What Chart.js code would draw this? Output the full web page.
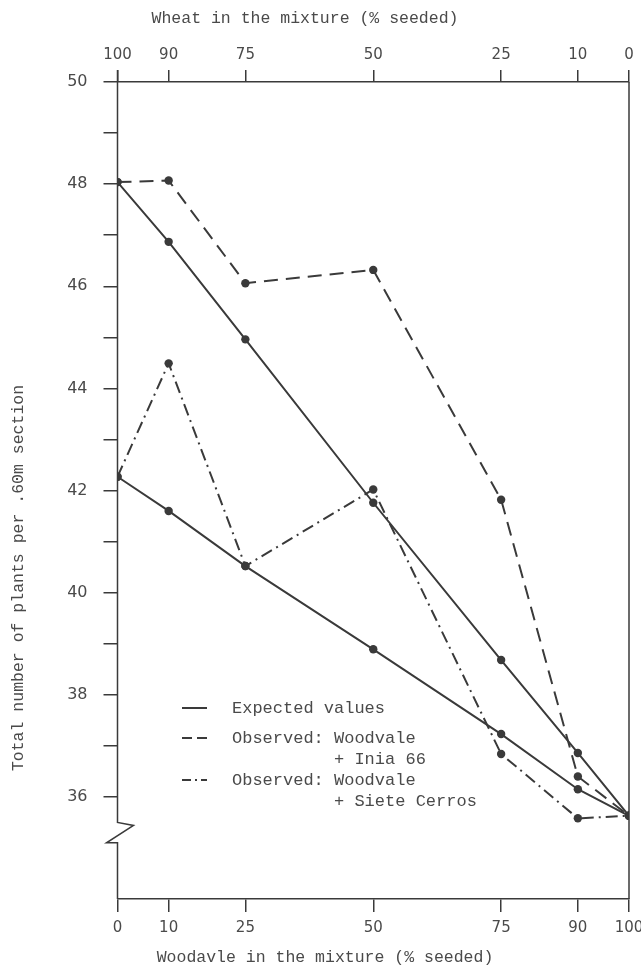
<!DOCTYPE html>
<html>
<head>
<meta charset="utf-8">
<script src="https://cdn.jsdelivr.net/npm/chart.js@4/dist/chart.umd.min.js"></script>
<style>
  html, body { margin: 0; padding: 0; background: #ffffff; }
  canvas { display: block; }
</style>
</head>
<body>
<canvas id="c" width="641" height="969"></canvas>
<script>
// ---- Data ----
const woodvalePct = [0, 10, 25, 50, 75, 90, 100];
const bottomTicks = [0, 10, 25, 50, 75, 90, 100];
const wheatTicks = [100, 90, 75, 50, 25, 10, 0];
const yTickValues = [36, 37, 38, 39, 40, 41, 42, 43, 44, 45, 46, 47, 48, 49, 50];

const expectedInia66 = [48.04, 46.87, 44.96, 41.76, 38.68, 36.86, 35.63];
const expectedSieteCerros = [42.27, 41.60, 40.52, 38.89, 37.23, 36.15, 35.63];
const observedInia66 = [48.04, 48.07, 46.06, 46.32, 41.82, 36.40, 35.63];
const observedSieteCerros = [42.27, 44.49, 40.52, 42.02, 36.84, 35.58, 35.63];

const legendLabels = ["Expected values", "Observed: Woodvale", "+ Inia 66", "Observed: Woodvale", "+ Siete Cerros"];
const xTitle = "Woodavle in the mixture (% seeded)";
const x2Title = "Wheat in the mixture (% seeded)";
const yTitle = "Total number of plants per .60m section";

// ---- Styles ----
const INK = '#3a3a3a';
const TEXT = '#4a4a4a';
const MONO = '"Liberation Mono", "DejaVu Sans Mono", monospace';
const SANS = '"DejaVu Sans", "Liberation Sans", sans-serif';
const DASH = [14, 8];
const DASHDOT = [12, 5, 2, 5];

function pts(ys) { return woodvalePct.map((x, i) => ({ x: x, y: ys[i] })); }

function ds(label, ys, dash) {
  return {
    label: label,
    data: pts(ys),
    borderColor: INK,
    backgroundColor: INK,
    borderWidth: 2,
    borderDash: dash,
    pointRadius: 4.2,
    pointBorderWidth: 0,
    pointBackgroundColor: INK,
    tension: 0,
    fill: false
  };
}

const decorPlugin = {
  id: 'decor',
  afterDraw(chart) {
    const ctx = chart.ctx;
    const a = chart.chartArea;
    const y = chart.scales.y;
    ctx.save();
    ctx.strokeStyle = INK;
    ctx.lineWidth = 1.5;
    ctx.setLineDash([]);
    // left axis with break
    const xL = a.left;
    const b1 = y.getPixelForValue(35.5);
    const b2 = y.getPixelForValue(35.1);
    ctx.beginPath();
    ctx.moveTo(xL, a.top - 12);
    ctx.lineTo(xL, b1);
    ctx.lineTo(xL + 16, b1 + 3);
    ctx.lineTo(xL - 11, b2);
    ctx.lineTo(xL, b2);
    ctx.lineTo(xL, a.bottom);
    ctx.stroke();
    // right border
    ctx.beginPath();
    ctx.moveTo(a.right, a.top);
    ctx.lineTo(a.right, a.bottom);
    ctx.stroke();

    // titles
    ctx.fillStyle = TEXT;
    ctx.font = '16.5px ' + MONO;
    ctx.textAlign = 'center';
    ctx.textBaseline = 'middle';
    ctx.fillText(x2Title, 305, 19);
    ctx.fillText(xTitle, 325, 958);
    ctx.save();
    ctx.translate(19, 578);
    ctx.rotate(-Math.PI / 2);
    ctx.fillText(yTitle, 0, 0);
    ctx.restore();

    // legend
    const lx0 = 182, lx1 = 207, tx = 232;
    const rows = [
      { y: 708, dash: [], text: legendLabels[0] },
      { y: 738, dash: [10, 5], text: legendLabels[1] },
      { y: 780, dash: [9, 4, 2, 4], text: legendLabels[3] }
    ];
    ctx.font = '17px ' + MONO;
    ctx.textAlign = 'left';
    const cw = ctx.measureText('O').width;
    rows.forEach(r => {
      ctx.setLineDash(r.dash);
      ctx.lineWidth = 2;
      ctx.beginPath();
      ctx.moveTo(lx0, r.y);
      ctx.lineTo(lx1, r.y);
      ctx.stroke();
      ctx.fillText(r.text, tx, r.y);
    });
    ctx.setLineDash([]);
    ctx.fillText(legendLabels[2], tx + cw * 10, 759);
    ctx.fillText(legendLabels[4], tx + cw * 10, 801);
    ctx.restore();
  }
};

const tickFont = { family: SANS, size: 15 };

new Chart(document.getElementById('c'), {
  type: 'line',
  data: {
    datasets: [
      ds('Expected values (Inia 66)', expectedInia66, []),
      ds('Expected values (Siete Cerros)', expectedSieteCerros, []),
      ds('Observed: Woodvale + Inia 66', observedInia66, DASH),
      ds('Observed: Woodvale + Siete Cerros', observedSieteCerros, DASHDOT)
    ]
  },
  options: {
    responsive: false,
    animation: false,
    layout: { padding: { left: 0, right: 12, top: 0, bottom: 0 } },
    plugins: { legend: { display: false }, tooltip: { enabled: false } },
    scales: {
      x: {
        type: 'linear', position: 'bottom', min: 0, max: 100,
        afterBuildTicks: s => { s.ticks = bottomTicks.map(v => ({ value: v })); },
        afterFit: s => { s.height = 70; s.paddingRight = 0; s.paddingLeft = 0; },
        grid: { drawOnChartArea: false, drawTicks: true, tickLength: 13, color: INK, lineWidth: 1.5 },
        border: { display: true, color: INK, width: 1.5 },
        ticks: { font: tickFont, color: TEXT, padding: 7, maxRotation: 0, autoSkip: false, callback: v => String(v) }
      },
      x2: {
        type: 'linear', position: 'top', min: 0, max: 100, reverse: true,
        afterBuildTicks: s => { s.ticks = wheatTicks.map(v => ({ value: v })); },
        afterFit: s => { s.height = 82; s.paddingRight = 0; s.paddingLeft = 0; },
        grid: { drawOnChartArea: false, drawTicks: true, tickLength: 12, color: INK, lineWidth: 1.5 },
        border: { display: true, color: INK, width: 1.5 },
        ticks: { font: tickFont, color: TEXT, padding: 6, maxRotation: 0, autoSkip: false, callback: v => String(v) }
      },
      y: {
        type: 'linear', position: 'left', min: 34, max: 50,
        afterBuildTicks: s => { s.ticks = yTickValues.map(v => ({ value: v })); },
        afterFit: s => { s.width = 117.5; s.paddingTop = 0; s.paddingBottom = 0; },
        grid: { drawOnChartArea: false, drawTicks: true, tickLength: 14, color: INK, lineWidth: 1.5 },
        border: { display: false },
        ticks: { font: { family: SANS, size: 16 }, color: TEXT, padding: 16, autoSkip: false,
                 callback: v => (v % 2 === 0 ? String(v) : '') }
      }
    }
  },
  plugins: [decorPlugin]
});
</script>
</body>
</html>
